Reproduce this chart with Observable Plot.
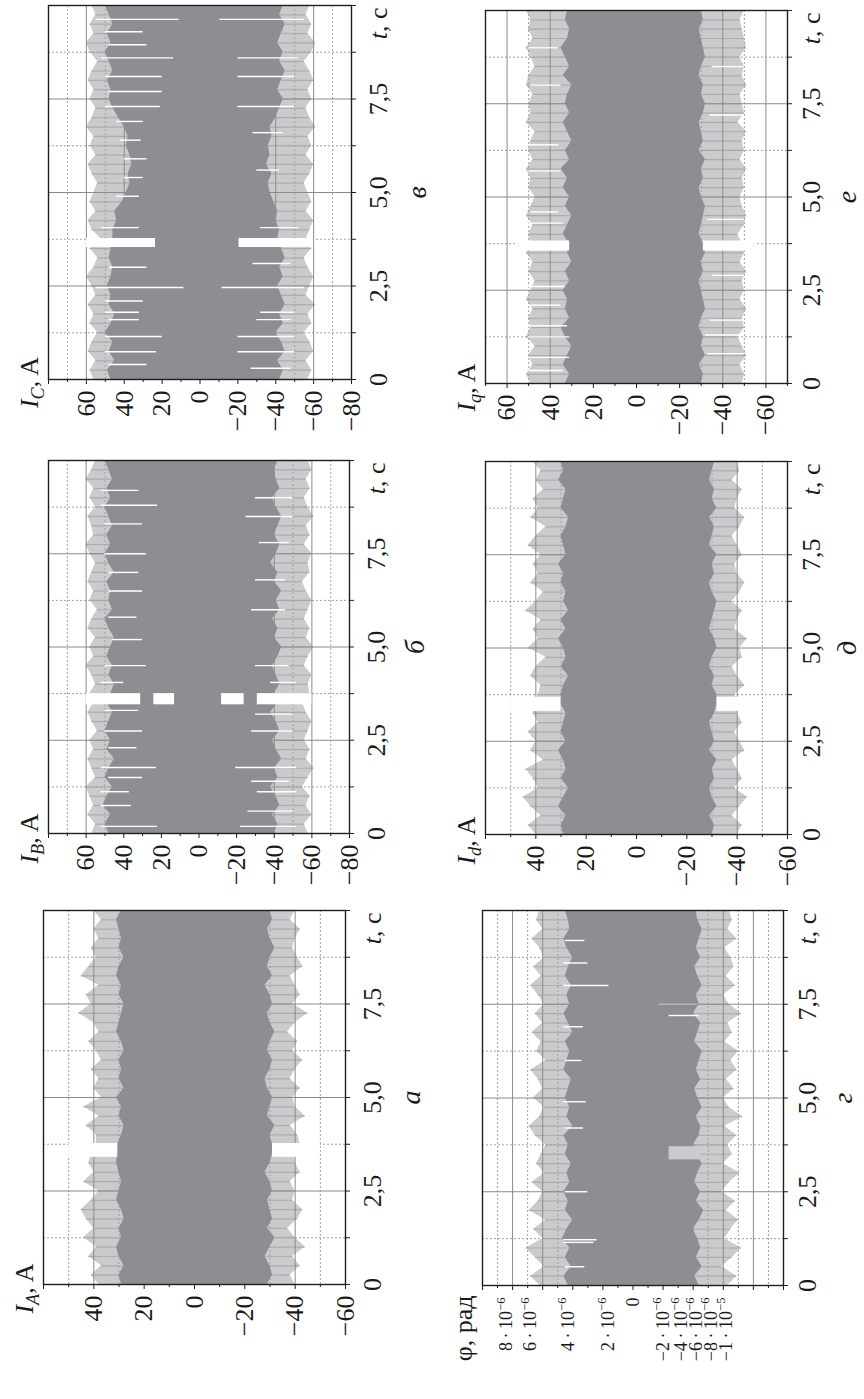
<!DOCTYPE html>
<html><head><meta charset="utf-8">
<script src="https://cdn.jsdelivr.net/npm/d3@7"></script>
<script src="https://cdn.jsdelivr.net/npm/@observablehq/plot@0.6"></script>
<style>
html,body{margin:0;padding:0;background:#fff;}
#page{position:relative;width:864px;height:1399px;overflow:hidden;background:#fff;}
.panel{position:absolute;}
.panel svg{overflow:visible;max-width:none;}
</style></head><body><div id="page"></div><script>
// ---------- data ----------
const STEP = 0.25; // s between envelope samples, t = i*STEP, i = 0..40
const TIME_MAJOR = [2.5, 5, 7.5];
const TIME_MINOR = [1.25, 3.75, 6.25, 8.75];
const TIME_TICKS = [0, 1.25, 2.5, 3.75, 5, 6.25, 7.5, 8.75, 10];
const TIME_LABELS = [[0, "0"], [2.5, "2,5"], [5, "5,0"], [7.5, "7,5"], [9.52, "*t*, с"]];

// I_C (в)
const IC_outHi = [56,58,55,59,57,54,58,56,59,55,57,60,56,54,58,52,57,59,55,58,56,54,57,59,55,58,56,60,57,55,58,56,59,57,54,58,60,56,58,55,57];
const IC_inHi  = [47,49,45,48,46,50,47,45,48,47,49,47,46,48,47,46,46,44,45,41,39,37,38,36,37,39,38,40,43,46,48,47,49,46,48,50,47,49,46,48,50];
const IC_inLo  = [-42,-44,-41,-45,-43,-40,-44,-42,-45,-43,-41,-44,-42,-45,-43,-41,-42,-40,-41,-39,-37,-36,-38,-35,-37,-36,-38,-37,-40,-42,-44,-41,-43,-45,-42,-44,-41,-43,-45,-42,-44];
const IC_outLo = [-57,-59,-56,-60,-58,-55,-59,-57,-61,-56,-58,-60,-57,-55,-59,-56,-58,-60,-56,-59,-57,-55,-58,-60,-56,-59,-57,-61,-58,-56,-59,-57,-60,-58,-55,-59,-61,-57,-59,-56,-58];
const IC_streaks = [[9.63,11,55],[9.3,30,50],[8.95,28,48],[8.6,14,52],[8.1,20,50],[7.7,20,48],[7.3,21,50],[6.9,30,44],[6.4,31,42],[5.9,28,40],[5.4,30,40],[4.9,32,44],[4.06,32,52],[3.0,28,48],[2.46,8.5,55],[2.1,30,50],[1.8,32,50],[1.6,32,48],[1.15,20,50],[0.74,23,50],[0.4,28,48],
  [9.63,-10.5,-55],[8.6,-20,-52],[8.1,-20,-50],[7.3,-20,-50],[6.6,-28,-44],[5.6,-30,-42],[4.06,-32,-52],[3.1,-28,-48],[2.46,-11.6,-55],[1.8,-32,-50],[1.6,-30,-48],[1.15,-20,-50],[0.74,-20,-50],[0.3,-27,-48]];
const IC_notch = [[3.53,3.77,23.5,60],[3.53,3.77,-20.6,-60]];

// I_B (б)
const IB_outHi = [57,55,59,56,58,60,55,57,59,56,58,54,57,59,56,58,55,57,60,56,58,55,59,57,54,58,56,59,57,55,58,60,56,57,59,55,58,56,60,57,55];
const IB_inHi  = [48,50,47,51,49,46,50,48,45,49,47,50,48,46,49,47,45,48,46,49,47,45,48,50,46,48,47,49,45,48,50,47,49,46,48,50,47,49,46,48,50];
const IB_inLo  = [-40,-42,-39,-43,-41,-38,-42,-40,-44,-41,-39,-43,-41,-38,-42,-40,-43,-41,-39,-42,-44,-40,-42,-39,-43,-41,-44,-40,-42,-38,-41,-43,-40,-42,-44,-41,-39,-43,-41,-40,-42];
const IB_outLo = [-58,-56,-60,-57,-59,-55,-58,-61,-57,-59,-56,-58,-60,-57,-55,-59,-58,-60,-56,-58,-61,-57,-59,-56,-58,-60,-57,-55,-59,-58,-60,-56,-59,-57,-61,-58,-56,-59,-57,-60,-58];
const IB_streaks = [[9.2,32,52],[8.8,22,52],[8.3,30,50],[7.5,28,50],[7.0,32,48],[6.5,30,48],[5.8,33,48],[5.2,30,46],[4.5,28,50],[4.05,40,52],[3.3,32,50],[2.75,30,50],[2.3,33,48],[1.77,22.7,52],[1.5,30,48],[1.12,37,52],[0.75,36,52],[0.19,22,52],
  [9.0,-30,-50],[8.5,-25,-50],[7.8,-32,-48],[6.8,-30,-46],[6.0,-28,-46],[4.5,-30,-48],[4.05,-38,-52],[3.2,-30,-50],[2.75,-28,-50],[1.77,-19.5,-52],[1.4,-28,-48],[1.12,-31,-52],[0.6,-26,-50],[0.19,-22,-52]];
const IB_notch = [[3.45,3.75,13,24],[3.45,3.75,31,60],[3.45,3.75,-12,-24],[3.45,3.75,-31,-60]];

// I_A (а)
const IA_outHi = [38,41,37,42,39,44,40,43,45,41,38,44,40,42,41,39,39,43,38,44,37,40,38,41,37,39,42,38,40,46,41,43,38,45,42,39,41,38,40,37,40];
const IA_inHi  = [29,30,28,30,31,29,30,28,29,31,30,29,30,31,30.5,30.5,29,28,30,29,31,28,30,29,30,28,29,31,30,29,28,30,29,31,30,28,30,29,30,31,29];
const IA_inLo  = [-29,-31,-30,-28,-30,-32,-29,-31,-30,-29,-31,-30,-28,-30,-31,-31,-30,-32,-29,-30,-31,-29,-28,-30,-31,-29,-30,-32,-30,-29,-31,-30,-28,-31,-29,-30,-32,-30,-29,-31,-30];
const IA_outLo = [-40,-38,-42,-39,-44,-40,-37,-41,-43,-39,-40,-38,-42,-40,-40,-42,-41,-38,-44,-40,-39,-42,-38,-40,-43,-39,-41,-37,-40,-45,-39,-42,-40,-38,-43,-41,-39,-40,-42,-38,-40];
const IA_streaks = [];
const IA_notch = [[3.4,3.77,30.5,50],[3.4,3.77,-31,-50]];

// I_q (е)
const IQ_outHi = [49,51,48,50,47,51,49,50,48,51,49,47,50,48,51,49,50,48,51,49,47,50,49,51,48,50,49,47,51,49,50,48,51,50,47,49,51,48,50,49,51];
const IQ_inHi  = [33,31,34,32,30,33,35,31,33,32,34,31,33,30,32,31,34,32,30,33,31,34,32,35,31,33,30,32,34,31,33,32,30,34,31,33,35,32,31,33,32];
const IQ_inLo  = [-30,-31,-29,-32,-30,-31,-29,-30,-32,-31,-30,-29,-31,-30,-32,-31,-29,-30,-31,-32,-30,-29,-31,-30,-32,-29,-31,-30,-29,-31,-32,-30,-31,-29,-30,-32,-31,-30,-29,-31,-30];
const IQ_outLo = [-49,-50,-48,-51,-49,-47,-50,-49,-51,-48,-50,-49,-51,-48,-50,-49,-47,-50,-51,-49,-48,-50,-49,-51,-48,-50,-49,-51,-47,-50,-49,-48,-51,-49,-50,-48,-51,-50,-49,-48,-50];
const IQ_streaks = [[0.35,34,50],[0.7,31,50],[1.25,31,50],[1.55,32,50],[2.1,35,49],[2.6,33,50],[4.3,34,50],[4.6,36,49],[5.7,35,50],[6.4,36,50],[8.0,35,49],[9.0,36,50],
  [0.8,-33,-50],[1.3,-32,-50],[1.7,-34,-50],[2.9,-35,-50],[4.4,-33,-50],[7.2,-34,-50],[8.5,-35,-50]];
const IQ_notch = [[3.55,3.82,31,55],[3.55,3.82,-31,-55]];

// I_d (д)
const ID_outHi = [40,43,38,42,45,39,41,44,37,42,40,43,39,41,41,39,38,42,40,36,43,39,41,38,44,40,37,42,39,41,38,43,40,36,42,39,41,37,40,38,41];
const ID_inHi  = [29,30,28,31,29,27,30,28,29,31,28,30,29,28,30,30,29,27,30,28,29,31,28,30,27,29,28,30,29,31,28,29,30,28,27,30,29,28,31,29,30];
const ID_inLo  = [-30,-31,-29,-32,-30,-29,-31,-30,-32,-29,-31,-30,-29,-31,-32,-32,-30,-31,-29,-30,-32,-31,-29,-30,-31,-32,-30,-29,-31,-30,-32,-29,-30,-31,-29,-32,-30,-31,-29,-30,-31];
const ID_outLo = [-40,-42,-38,-41,-44,-39,-42,-40,-38,-43,-41,-39,-42,-40,-41,-39,-43,-40,-38,-42,-41,-44,-39,-40,-42,-38,-41,-43,-40,-39,-42,-40,-38,-41,-43,-39,-40,-42,-38,-41,-40];
const ID_streaks = [];
const ID_notch = [[3.3,3.68,30,50],[3.3,3.68,-32,-50]];

// φ (г), values in 10^-6 rad
const PHI_outHi = [6.2,6.8,5.9,6.5,7.1,6.0,6.6,5.8,6.9,6.3,6.0,6.7,5.9,6.4,6.1,5.8,6.5,6.9,6.2,5.9,6.6,6.0,6.3,6.8,5.8,6.4,6.1,6.7,6.0,6.5,5.9,6.3,6.8,6.1,6.6,5.9,6.2,6.7,6.0,6.4,6.2];
const PHI_inHi  = [4.3,4.6,4.1,4.5,4.2,4.7,4.4,4.0,4.5,4.3,4.6,4.2,4.4,4.1,4.5,4.3,4.6,4.0,4.4,4.2,4.5,4.3,4.1,4.6,4.4,4.2,4.5,4.0,4.3,4.6,4.2,4.4,4.1,4.5,4.3,4.0,4.4,4.6,4.2,4.3,4.5];
const PHI_inLo  = [-4.4,-4.1,-4.6,-4.2,-4.5,-4.3,-4.0,-4.4,-4.7,-4.2,-4.5,-4.1,-4.3,-4.6,-4.2,-4.0,-4.4,-4.5,-4.2,-4.6,-4.3,-4.1,-4.5,-4.2,-4.4,-4.6,-4.1,-4.3,-4.5,-4.0,-4.4,-4.2,-4.6,-4.3,-4.1,-4.5,-4.2,-4.4,-4.6,-4.3,-4.2];
const PHI_outLo = [-6.3,-6.9,-5.9,-6.6,-7.2,-6.1,-6.5,-7.0,-6.2,-6.8,-5.9,-6.4,-7.1,-6.0,-6.6,-6.3,-6.9,-6.1,-7.3,-6.4,-6.0,-6.7,-6.2,-6.9,-6.5,-7.0,-6.1,-6.6,-6.3,-7.2,-6.4,-6.0,-6.8,-6.2,-6.7,-6.5,-6.1,-6.9,-6.3,-6.6,-6.4];
const PHI_streaks = [[8.0,1.6,4.6],[8.6,3.0,4.6],[9.2,3.2,4.5],[6.9,3.3,4.6],[6.0,3.4,4.5],[4.9,3.1,4.6],[4.2,3.3,4.5],[2.5,3.0,4.5],[1.22,2.4,4.6],[1.15,2.6,4.6],[0.5,3.2,4.5],[7.2,-2.4,-4.4]];
const PHI_grayStreaks = [[7.5,-1.7,-4.3]];
const PHI_patch = [[3.35,3.7,-2.4,-4.5]];
const PHI_TICK_TEXT = ["8\u2009·\u200910^{−6}","6\u2009·\u200910^{−6}","4\u2009·\u200910^{−6}","2\u2009·\u200910^{−6}","0","−2\u2009·\u200910^{−6}","−4\u2009·\u200910^{−6}","−6\u2009·\u200910^{−6}","−8\u2009·\u200910^{−6}","−1\u2009·\u200910^{−5}"];
// where each label sits along the φ axis in the reference (units of 10^-6 rad)
const PHI_TICK_AT = [8.4, 6.8, 4.3, 1.65, 0, -2.0, -3.2, -4.2, -5.2, -6.2];

// axis tick values / grid
const BC_LABELS = [60,40,20,0,-20,-40,-60,-80];
const BC_MAJOR = [80,60,40,20,0,-20,-40,-60,-80];
const BC_MINOR = [70,50,30,10,-10,-30,-50,-70];
const BC_GRID_MAJOR = [60,40,20,0,-20,-40,-60];
const BC_GRID_MINOR = [70,50,30,10,-10,-30,-50,-70];
const AD_LABELS = [40,20,0,-20,-40,-60];
const AD_MAJOR = [60,40,20,0,-20,-40,-60];
const AD_MINOR = [50,30,10,-10,-30,-50];
const AD_GRID_MAJOR = [40,20,0,-20,-40];
const AD_GRID_MINOR = [50,30,10,-10,-30,-50];
const Q_LABELS = [60,40,20,0,-20,-40,-60];
const Q_MAJOR = [60,40,20,0,-20,-40,-60];
const Q_MINOR = [70,50,30,10,-10,-30,-50,-70];
const Q_GRID_MINOR = [50,30,10,-10,-30,-50];
const PHI_MAJOR = [10,8,6,4,2,0,-2,-4,-6,-8,-10];
const PHI_MINOR = [9,7,5,3,1,-1,-3,-5,-7,-9];
const PHI_GRID_MAJOR = [8,6,4,2,0,-2,-4,-6,-8];
const PHI_GRID_MINOR = [9,7,5,3,1,-1,-3,-5,-7,-9];

// ---------- styles / layout ----------
const FONT = "'Liberation Serif','DejaVu Serif','Times New Roman',serif";
const DARK = "#8d8e92", FRINGE = "#cbcbce", SPIKE = "#adadb0", GRID_MAJ = "#8a8a8a", GRID_MIN = "#a2a2a2", FRAME = "#1e1e1e", TEXT = "#1a1a1a";

const panels = [
  {caption:"в", title:"*I*_{C}, A", domain:[-80,80], frame:[48,351,5,379], mR:95, tDx:27, cDx:66, titleDy:3, titleAnchor:"middle",
   outHi:IC_outHi, inHi:IC_inHi, inLo:IC_inLo, outLo:IC_outLo, streaks:IC_streaks, notch:IC_notch,
   labels:BC_LABELS, major:BC_MAJOR, minor:BC_MINOR, gMaj:BC_GRID_MAJOR, gMin:BC_GRID_MINOR},
  {caption:"б", title:"*I*_{B}, A", domain:[-80,80], frame:[48,349,460,833], mR:95, tDx:27, cDx:66, titleDy:5, titleAnchor:"middle",
   outHi:IB_outHi, inHi:IB_inHi, inLo:IB_inLo, outLo:IB_outLo, streaks:IB_streaks, notch:IB_notch,
   labels:BC_LABELS, major:BC_MAJOR, minor:BC_MINOR, gMaj:BC_GRID_MAJOR, gMin:BC_GRID_MINOR},
  {caption:"а", title:"*I*_{A}, A", domain:[-60,60], frame:[43,345,910,1284], mR:95, tDx:27, cDx:66, titleDy:4, titleAnchor:"middle",
   outHi:IA_outHi, inHi:IA_inHi, inLo:IA_inLo, outLo:IA_outLo, streaks:IA_streaks, notch:IA_notch,
   labels:AD_LABELS, major:AD_MAJOR, minor:AD_MINOR, gMaj:AD_GRID_MAJOR, gMin:AD_GRID_MINOR},
  {caption:"е", title:"*I*_{q}, A", domain:[-70,70], frame:[485,787,10,383], mR:77, tDx:24, cDx:60, titleDy:4, titleAnchor:"middle",
   outHi:IQ_outHi, inHi:IQ_inHi, inLo:IQ_inLo, outLo:IQ_outLo, streaks:IQ_streaks, notch:IQ_notch,
   labels:Q_LABELS, major:Q_MAJOR, minor:Q_MINOR, gMaj:Q_MAJOR, gMin:Q_GRID_MINOR},
  {caption:"д", title:"*I*_{d}, A", domain:[-60,60], frame:[485,787,461,834], mR:77, tDx:24, cDx:60, titleDy:6, titleAnchor:"middle",
   outHi:ID_outHi, inHi:ID_inHi, inLo:ID_inLo, outLo:ID_outLo, streaks:ID_streaks, notch:ID_notch,
   labels:AD_LABELS, major:AD_MAJOR, minor:AD_MINOR, gMaj:AD_GRID_MAJOR, gMin:AD_GRID_MINOR},
  {caption:"г", title:"φ, рад", domain:[-10,10], frame:[482,783,910,1285], mR:77, tDx:24, cDx:60, titleDy:10, titleAnchor:"end",
   outHi:PHI_outHi, inHi:PHI_inHi, inLo:PHI_inLo, outLo:PHI_outLo, streaks:PHI_streaks, notch:[], patch:PHI_patch, gray:PHI_grayStreaks,
   labelAt:PHI_TICK_AT, labelText:PHI_TICK_TEXT, labelSize:18, major:PHI_MAJOR, minor:PHI_MINOR, gMaj:PHI_GRID_MAJOR, gMin:PHI_GRID_MINOR}
];

function fmtA(d) { return d < 0 ? "\u2212" + (-d) : String(d); }

function richify(svg) {
  d3.select(svg).selectAll("text").each(function () {
    const s = this.textContent;
    if (!/[*_^]/.test(s)) return;
    const host = this.closest("[font-size]");
    const fs = host ? parseFloat(host.getAttribute("font-size")) : 26;
    const el = d3.select(this);
    el.text(null);
    const re = /\*([^*]+)\*|_\{([^}]+)\}|\^\{([^}]+)\}|([^*_^]+)/g;
    let m, shift = 0;
    while ((m = re.exec(s))) {
      const t = el.append("tspan");
      let target = 0;
      if (m[1] !== undefined) t.attr("font-style", "italic").text(m[1]);
      else if (m[2] !== undefined) { t.attr("font-style", "italic").attr("font-size", (fs * 0.7) + "px").text(m[2]); target = fs * 0.25; }
      else if (m[3] !== undefined) { t.attr("font-size", (fs * 0.7) + "px").text(m[3]); target = -fs * 0.42; }
      else t.text(m[4]);
      if (target !== shift) { t.attr("dy", target - shift); shift = target; }
    }
  });
}

function drawPanel(p) {
  const [fx0, fx1, fy0, fy1] = p.frame;
  const fw = fx1 - fx0, fh = fy1 - fy0;
  const mL = 52, mT = 8, mR = p.mR, mB = 118;
  const rows = p.outHi.map((v, i) => ({t: i * STEP, oh: v, ih: p.inHi[i], il: p.inLo[i], ol: p.outLo[i]}));
  const streaks = p.streaks.map(([t, a, b]) => ({t, a, b}));
  const notch = p.notch.map(([t1, t2, a, b]) => ({t1, t2, a, b}));
  const patch = (p.patch || []).map(([t1, t2, a, b]) => ({t1, t2, a, b}));
  const gray = (p.gray || []).map(([t, a, b]) => ({t, a, b}));
  const txt = {fontFamily: FONT, fill: TEXT, rotate: -90};
  const marks = [
    Plot.areaX(rows, {y: "t", x1: "ol", x2: "oh", fill: FRINGE}),
    Plot.ruleY(rows, {y: "t", x1: "ih", x2: "oh", stroke: SPIKE, strokeWidth: 1.2}),
    Plot.ruleY(rows, {y: "t", x1: "il", x2: "ol", stroke: SPIKE, strokeWidth: 1.2}),
    Plot.ruleX(p.gMin, {stroke: GRID_MIN, strokeWidth: 1, strokeDasharray: "2,2"}),
    Plot.ruleY(TIME_MINOR, {stroke: GRID_MIN, strokeWidth: 1, strokeDasharray: "2,2"}),
    Plot.ruleX(p.gMaj, {stroke: GRID_MAJ, strokeWidth: 1}),
    Plot.ruleY(TIME_MAJOR, {stroke: GRID_MAJ, strokeWidth: 1}),
    Plot.areaX(rows, {y: "t", x1: "il", x2: "ih", fill: DARK}),
    Plot.rect(notch, {y1: "t1", y2: "t2", x1: "a", x2: "b", fill: "white"}),
    Plot.rect(patch, {y1: "t1", y2: "t2", x1: "a", x2: "b", fill: FRINGE}),
    Plot.ruleY(streaks, {y: "t", x1: "a", x2: "b", stroke: "white", strokeWidth: 1.4}),
    Plot.ruleY(gray, {y: "t", x1: "a", x2: "b", stroke: "#b4b4b6", strokeWidth: 1.4}),
    Plot.frame({stroke: FRAME, strokeWidth: 1.4}),
    Plot.axisX(p.major, {anchor: "bottom", tickSize: 5, tickFormat: () => "", label: null, stroke: FRAME}),
    Plot.axisX(p.minor, {anchor: "bottom", tickSize: 3, tickFormat: () => "", label: null, stroke: FRAME}),
    Plot.axisY(TIME_TICKS, {anchor: "right", tickSize: 4, tickFormat: () => "", label: null, stroke: FRAME}),
    p.labelAt
      ? Plot.text(p.labelAt, {...txt, x: d => d, text: (d, i) => p.labelText[i], frameAnchor: "bottom", dy: 12, textAnchor: "end", lineAnchor: "middle", fontSize: p.labelSize})
      : Plot.text(p.labels, {...txt, x: d => d, text: d => fmtA(d), frameAnchor: "bottom", dy: 11, textAnchor: "end", lineAnchor: "middle", fontSize: 26}),
    Plot.text(TIME_LABELS, {...txt, y: d => d[0], text: d => d[1], frameAnchor: "right", dx: p.tDx, textAnchor: "middle", lineAnchor: "middle", fontSize: 26}),
    Plot.text([p.caption], {...txt, y: () => 5, text: d => "*" + d + "*", frameAnchor: "right", dx: p.cDx, textAnchor: "middle", lineAnchor: "middle", fontSize: 28}),
    Plot.text([p.title], {...txt, text: d => d, frameAnchor: "bottom-left", dx: -19, dy: p.titleDy, textAnchor: p.titleAnchor, lineAnchor: "middle", fontSize: 26})
  ];
  const [lo, hi] = p.domain;
  const svg = Plot.plot({
    width: mL + fw + mR, height: mT + fh + mB,
    marginLeft: mL, marginRight: mR, marginTop: mT, marginBottom: mB,
    x: {domain: [hi, lo], axis: null, label: null},
    y: {domain: [0, 10], axis: null, label: null},
    style: {fontFamily: FONT, background: "transparent", overflow: "visible", maxWidth: "none"},
    marks
  });
  richify(svg);
  const div = document.createElement("div");
  div.className = "panel";
  div.style.left = (fx0 - mL) + "px";
  div.style.top = (fy0 - mT) + "px";
  div.style.width = (mL + fw + mR) + "px";
  div.appendChild(svg);
  document.getElementById("page").appendChild(div);
}

panels.forEach(drawPanel);
</script></body></html>
